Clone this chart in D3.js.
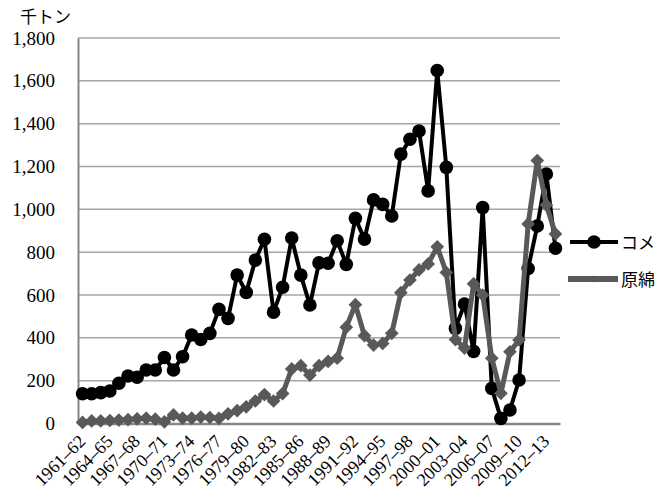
<!DOCTYPE html>
<html>
<head>
<meta charset="utf-8">
<script src="https://cdn.jsdelivr.net/npm/d3@7"></script>
<style>
  html, body { margin: 0; padding: 0; background: #fff; }
  svg { display: block; }
  .tick text, .num { font-family: "Liberation Serif", "Times New Roman", serif; }
  .jp { font-family: "Noto Sans CJK JP", sans-serif; }
</style>
</head>
<body>
<svg id="chart" width="665" height="493"></svg>
<script>
// Crop years 1961–62 … 2013–14
const years = d3.range(1961, 2014).map(y => `${y}–${String((y + 1) % 100).padStart(2, "0")}`);

// Rice (コメ), thousand tonnes
const rice = [139, 139, 144, 152, 188, 222, 216, 250, 250, 308, 250, 312, 413, 392, 421, 533, 491, 693, 612, 763,
  860, 520, 636, 866, 693, 553, 750, 748, 853, 743, 958, 861, 1044, 1023, 969, 1258, 1327, 1366, 1086, 1648,
  1196, 444, 558, 337, 1008, 164, 24, 63, 203, 724, 922, 1165, 818];

// Raw cotton (原綿), thousand tonnes
const cotton = [5, 12, 12, 14, 16, 18, 22, 25, 20, 8, 40, 25, 25, 30, 28, 24, 45, 60, 78, 105,
  135, 105, 140, 255, 270, 226, 270, 290, 305, 450, 555, 410, 366, 374, 421, 611, 670, 717, 745, 825,
  705, 392, 352, 652, 600, 305, 141, 335, 390, 932, 1228, 1020, 885];

const yTicks = [0, 200, 400, 600, 800, 1000, 1200, 1400, 1600, 1800];
const xLabelYears = years.filter((d, i) => i % 3 === 0);
const seriesNames = ["コメ", "原綿"];

const svg = d3.select("#chart");
const plotLeft = 78, plotRight = 560, plotTop = 38, plotBottom = 423.5;

const x = d3.scaleBand().domain(years).range([plotLeft, plotRight]).padding(0);
const y = d3.scaleLinear().domain([0, 1800]).range([plotBottom, plotTop]);
const cx = d => x(d) + x.bandwidth() / 2;

// Horizontal gridlines
svg.append("g")
  .selectAll("line")
  .data(yTicks.filter(t => t > 0))
  .join("line")
  .attr("x1", plotLeft).attr("x2", plotRight)
  .attr("y1", d => y(d)).attr("y2", d => y(d))
  .attr("stroke", "#a6a6a6").attr("stroke-width", 1.5);

// Y axis
const yAxis = svg.append("g")
  .attr("transform", `translate(${plotLeft},0)`)
  .call(d3.axisLeft(y).tickValues(yTicks).tickFormat(d3.format(",")).tickSize(0).tickPadding(23));
yAxis.select(".domain").attr("stroke", "#868686").attr("stroke-width", 2);
yAxis.selectAll(".tick text").style("font-size", "19px").attr("fill", "#000");

// X axis, labels slanted at 45°
const xAxis = svg.append("g")
  .attr("transform", `translate(0,${plotBottom})`)
  .call(d3.axisBottom(x).tickValues(xLabelYears).tickSize(0).tickPadding(0));
xAxis.select(".domain").attr("stroke", "#868686").attr("stroke-width", 2.5);
xAxis.selectAll(".tick text")
  .style("font-size", "18px").attr("fill", "#000")
  .attr("text-anchor", "end")
  .attr("y", 0).attr("dy", 0)
  .attr("transform", "translate(4,19) rotate(-45)");

// Unit label
svg.append("text").attr("class", "jp").attr("x", 20).attr("y", 23)
  .style("font-size", "17px").text("千トン");

const line = d3.line().x((d, i) => cx(years[i])).y(d => y(d));

// Rice series
svg.append("path").datum(rice)
  .attr("d", line).attr("fill", "none")
  .attr("stroke", "#000").attr("stroke-width", 4).attr("stroke-linejoin", "round");
svg.append("g").selectAll("circle").data(rice).join("circle")
  .attr("cx", (d, i) => cx(years[i])).attr("cy", d => y(d)).attr("r", 6.8).attr("fill", "#000");

// Cotton series
const grey = "#595959";
svg.append("path").datum(cotton)
  .attr("d", line).attr("fill", "none")
  .attr("stroke", grey).attr("stroke-width", 5).attr("stroke-linejoin", "round");
const diamond = d3.symbol().type(d3.symbolDiamond2).size(120);
svg.append("g").selectAll("path").data(cotton).join("path")
  .attr("d", diamond)
  .attr("transform", (d, i) => `translate(${cx(years[i])},${y(d)})`)
  .attr("fill", grey);

// Legend
const legend = svg.append("g");
legend.append("line").attr("x1", 570).attr("x2", 618).attr("y1", 242).attr("y2", 242)
  .attr("stroke", "#000").attr("stroke-width", 4);
legend.append("circle").attr("cx", 594).attr("cy", 242).attr("r", 6.8).attr("fill", "#000");
legend.append("text").attr("class", "jp").attr("x", 621).attr("y", 248.5)
  .style("font-size", "17px").text(seriesNames[0]);

legend.append("line").attr("x1", 568).attr("x2", 618).attr("y1", 279).attr("y2", 279)
  .attr("stroke", grey).attr("stroke-width", 6);
legend.append("path").attr("d", d3.symbol().type(d3.symbolDiamond2).size(30))
  .attr("transform", "translate(594,279)").attr("fill", grey);
legend.append("text").attr("class", "jp").attr("x", 621).attr("y", 285.5)
  .style("font-size", "17px").text(seriesNames[1]);
</script>
</body>
</html>
